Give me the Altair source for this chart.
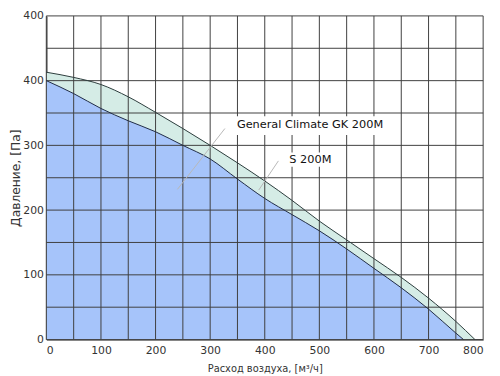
import altair as alt
import pandas as pd

# S 200M (upper curve)
s_x = [0, 50, 100, 150, 200, 250, 300, 350, 400, 450, 500, 550, 600, 650, 700, 750, 785]
s_y = [413, 405, 394, 375, 351, 326, 300, 273, 245, 215, 183, 154, 125, 96, 64, 28, 0]
# General Climate GK 200M (lower curve)
gk_x = [0, 50, 100, 150, 200, 250, 300, 350, 400, 450, 500, 550, 600, 650, 700, 750, 764]
gk_y = [400, 380, 357, 338, 321, 300, 279, 248, 218, 193, 168, 140, 110, 80, 47, 10, 0]

x_ticks = [0, 100, 200, 300, 400, 500, 600, 700, 800]
y_ticks = [0, 100, 200, 300, 400, 500]
x_grid = list(range(0, 801, 50))
y_grid = list(range(0, 501, 50))

labels = ["General Climate GK 200M", "S 200M"]
label_x = [349, 445]
label_y = [331, 277]
box_x = [342, 439]
box_x2 = [613, 523]
box_y = [316, 267]
box_y2 = [345, 289]
lead_x = [327, 425]
lead_y = [326, 276]
lead_x2 = [240, 389]
lead_y2 = [232, 231]

s_df = pd.DataFrame({"x": s_x, "y": s_y})
gk_df = pd.DataFrame({"x": gk_x, "y": gk_y})
ann = pd.DataFrame({
    "label": labels, "lx": label_x, "ly": label_y,
    "bx": box_x, "bx2": box_x2, "by": box_y, "by2": box_y2,
    "ax": lead_x, "ay": lead_y, "ax2": lead_x2, "ay2": lead_y2,
})
xg = pd.DataFrame({"v": x_grid})
yg = pd.DataFrame({"v": y_grid})

FONT = "DejaVu Sans"
xscale = alt.Scale(domain=[0, 800], nice=False, zero=False)
yscale = alt.Scale(domain=[0, 500], nice=False, zero=False)

xaxis = alt.Axis(values=x_ticks, grid=False, ticks=False, domain=True,
                 domainColor="#8a8a8a", domainWidth=2, labelFont=FONT,
                 labelFontSize=11, labelColor="#333333", labelPadding=5,
                 title="Расход воздуха, [м³/ч]", titleFont=FONT, titleFontSize=10,
                 titleFontWeight="normal", titleColor="#333333", titlePadding=8)
yaxis = alt.Axis(values=y_ticks, grid=False, ticks=False, domain=True,
                 domainColor="#8a8a8a", domainWidth=2, labelFont=FONT,
                 labelFontSize=11, labelColor="#333333", labelPadding=3,
                 labelExpr="datum.value == 500 ? '400' : datum.label",
                 title="Давление, [Па]", titleFont=FONT, titleFontSize=12.5,
                 titleFontWeight="normal", titleColor="#333333", titlePadding=0)

s_area = alt.Chart(s_df).mark_area(color="#d5ece6", interpolate="monotone", opacity=1).encode(
    x=alt.X("x:Q", scale=xscale, axis=xaxis),
    y=alt.Y("y:Q", scale=yscale, axis=yaxis),
)
gk_area = alt.Chart(gk_df).mark_area(color="#a6c4fa", interpolate="monotone", opacity=1).encode(
    x=alt.X("x:Q", scale=xscale), y=alt.Y("y:Q", scale=yscale))

xgrid = alt.Chart(xg).mark_rule(color="#3e3e3e", strokeWidth=1).encode(
    x=alt.X("v:Q", scale=xscale))
ygrid = alt.Chart(yg).mark_rule(color="#3e3e3e", strokeWidth=1).encode(
    y=alt.Y("v:Q", scale=yscale))

s_line = alt.Chart(s_df).mark_line(color="#2a3a3a", strokeWidth=1, interpolate="monotone").encode(
    x=alt.X("x:Q", scale=xscale), y=alt.Y("y:Q", scale=yscale))
gk_line = alt.Chart(gk_df).mark_line(color="#1f2a44", strokeWidth=1, interpolate="monotone").encode(
    x=alt.X("x:Q", scale=xscale), y=alt.Y("y:Q", scale=yscale))

boxes = alt.Chart(ann).mark_rect(color="white").encode(
    x=alt.X("bx:Q", scale=xscale), x2="bx2:Q",
    y=alt.Y("by:Q", scale=yscale), y2="by2:Q")
texts = alt.Chart(ann).mark_text(align="left", baseline="middle", font=FONT,
                                 fontSize=11.5, color="#111111").encode(
    x=alt.X("lx:Q", scale=xscale), y=alt.Y("ly:Q", scale=yscale), text="label:N")
leads = alt.Chart(ann).mark_rule(color="#b8b8b8", strokeWidth=1).encode(
    x=alt.X("ax:Q", scale=xscale), x2="ax2:Q",
    y=alt.Y("ay:Q", scale=yscale), y2="ay2:Q")

chart = alt.layer(s_area, gk_area, xgrid, ygrid, s_line, gk_line, boxes, texts, leads).properties(
    width=444, height=329,
    autosize=alt.AutoSizeParams(type="none"),
    padding={"left": 39, "top": 5, "right": 9, "bottom": 34},
    background="white",
).configure_view(stroke=None)

chart.save("out.html", embed_options={"renderer": "svg", "actions": False})
